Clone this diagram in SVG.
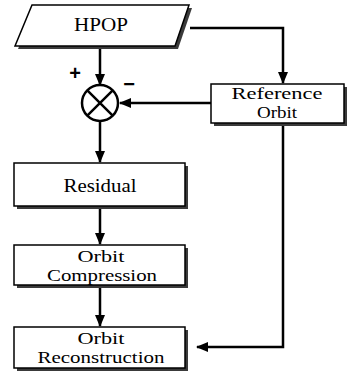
<svg xmlns="http://www.w3.org/2000/svg" width="349" height="374" viewBox="0 0 349 374">
<defs>
<style>
.box{fill:#fff;stroke:#000;stroke-width:1.5}
.sh{fill:#3a3a3a}
.t{font-family:"Liberation Serif","Times New Roman",serif;font-size:18px;fill:#000;text-anchor:middle}
.t2{font-family:"Liberation Serif","Times New Roman",serif;font-size:16px;fill:#000;text-anchor:middle}
.ln{fill:none;stroke:#000;stroke-width:2.5}
.sym{font-family:"Liberation Sans",Arial,sans-serif;font-size:20px;font-weight:bold;fill:#000;text-anchor:middle}
</style>
<marker id="ah" markerWidth="12" markerHeight="10" refX="11" refY="5" orient="auto" markerUnits="userSpaceOnUse">
<path d="M0,0 L12,5 L0,10 Z" fill="#000"/>
</marker>
</defs>
<rect width="349" height="374" fill="#fff"/>
<g id="connectors">
<path class="ln" d="M100,46 V85" marker-end="url(#ah)"/>
<path class="ln" d="M190,28 H283 V83" marker-end="url(#ah)"/>
<path class="ln" d="M212,103 H120" marker-end="url(#ah)"/>
<path class="ln" d="M100,121 V162" marker-end="url(#ah)"/>
<path class="ln" d="M100,207 V244" marker-end="url(#ah)"/>
<path class="ln" d="M100,286 V326" marker-end="url(#ah)"/>
<path class="ln" d="M283,124 V347 H197" marker-end="url(#ah)"/>
</g>
<g id="hpop">
<polygon class="sh" points="35,8 192,8 178,49 18,49"/>
<polygon class="box" points="32,5 189,5 175,46 15,46"/>
<text class="t" x="101" y="31" textLength="54" lengthAdjust="spacingAndGlyphs">HPOP</text>
</g>
<g id="sum">
<circle cx="100" cy="103" r="18" fill="#fff" stroke="#000" stroke-width="2.5"/>
<path d="M87.3,90.3 L112.7,115.7 M112.7,90.3 L87.3,115.7" stroke="#000" stroke-width="2.5"/>
<text class="sym" x="75" y="80">+</text>
<text class="sym" x="129" y="91">−</text>
</g>
<g id="reference-orbit">
<rect class="sh" x="214" y="87" width="133" height="39"/>
<rect class="box" x="211" y="84" width="133" height="39"/>
<text class="t2" x="277" y="99" textLength="91" lengthAdjust="spacingAndGlyphs">Reference</text>
<text class="t2" x="277" y="118" textLength="40" lengthAdjust="spacingAndGlyphs">Orbit</text>
</g>
<g id="residual">
<rect class="sh" x="17" y="166" width="171" height="43"/>
<rect class="box" x="14" y="163" width="171" height="43"/>
<text class="t" x="100" y="192" textLength="73" lengthAdjust="spacingAndGlyphs">Residual</text>
</g>
<g id="orbit-compression">
<rect class="sh" x="17" y="248" width="171" height="40"/>
<rect class="box" x="14" y="245" width="171" height="40"/>
<text class="t2" x="101" y="262" textLength="47" lengthAdjust="spacingAndGlyphs">Orbit</text>
<text class="t2" x="102" y="280.5" textLength="110" lengthAdjust="spacingAndGlyphs">Compression</text>
</g>
<g id="orbit-reconstruction">
<rect class="sh" x="17" y="330" width="171" height="41"/>
<rect class="box" x="14" y="327" width="171" height="41"/>
<text class="t2" x="101" y="344" textLength="47" lengthAdjust="spacingAndGlyphs">Orbit</text>
<text class="t2" x="101" y="362.5" textLength="127" lengthAdjust="spacingAndGlyphs">Reconstruction</text>
</g>
</svg>
